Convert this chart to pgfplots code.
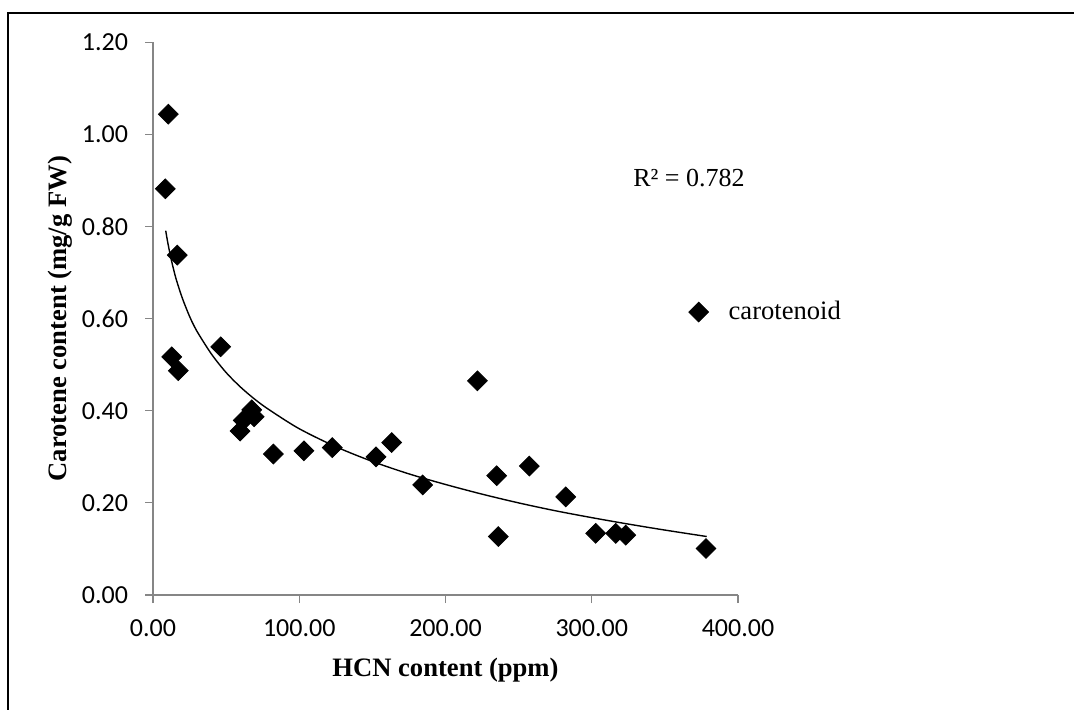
\documentclass[border=0pt]{standalone}
\usepackage{fontspec}
\setmainfont{Liberation Serif}
\newfontfamily\calibri{Carlito}
\usepackage{pgfplots}
\pgfplotsset{compat=1.18}
\definecolor{axisgray}{RGB}{134,134,134}

\begin{document}
\begin{tikzpicture}
  % picture size: 1074x709 px at 0.5pt per px, axis origin at px (153,595)
  \path[use as bounding box] (-76.5pt,-57pt) rectangle (460.5pt,297.5pt);
  \draw[line width=0.75pt] (-72.5pt,-60pt) -- (-72.5pt,291pt) -- (465pt,291pt);
  \begin{axis}[
      scale only axis,
      width=292.5pt, height=276.35pt,
      xmin=0, xmax=400, ymin=0, ymax=1.2,
      axis x line=bottom, axis y line=left,
      axis line style={-, axisgray, line width=0.6pt},
      xtick={0,100,200,300,400},
      ytick={0,0.2,0.4,0.6,0.8,1.0,1.2},
      tick align=outside,
      major tick length=4pt,
      tick style={axisgray, line width=0.6pt},
      xticklabel style={yshift=-5pt, /pgf/number format/.cd, fixed, fixed zerofill, precision=2, assume math mode=true},
      yticklabel style={xshift=-5pt, /pgf/number format/.cd, fixed, fixed zerofill, precision=2, assume math mode=true},
      tick label style={font=\calibri\fontsize{13}{15}\selectfont},
      xlabel={HCN content (ppm)},
      ylabel={Carotene content (mg/g FW)},
      xlabel style={font=\bfseries\fontsize{13.3}{16}\selectfont,
        at={(axis description cs:0.5,-0.148)}, anchor=base},
      ylabel style={font=\bfseries\fontsize{13.3}{16}\selectfont,
        at={(axis description cs:-0.1487,0.5)}, anchor=base},
      legend style={draw=none, fill=none, at={(axis description cs:0.905,0.512)},
        anchor=west, font=\fontsize{13.3}{16}\selectfont},
      clip=false,
    ]
    \addplot[only marks, mark=square*, mark size=3.5pt, mark options={rotate=45, black}, black]
      coordinates {
        (10.5,1.044)(8.4,0.882)(16.6,0.738)(12.8,0.517)(17.3,0.487)
        (46.3,0.539)(59.5,0.356)(61.7,0.379)(67.5,0.402)(69.1,0.387)
        (82.3,0.306)(103.2,0.313)(122.6,0.320)(152.5,0.300)(163.2,0.331)
        (184.4,0.239)(221.8,0.465)(235.0,0.259)(236.1,0.127)(257.3,0.280)
        (282.2,0.213)(302.7,0.134)(316.4,0.134)(323.2,0.130)(378.1,0.101)
      };
    \addlegendentry{\hspace{8pt}carotenoid}
    % trend line
    \addplot[black, line width=0.7pt, smooth, forget plot]
      coordinates {
        (8.7,0.791)(10,0.767)(12,0.735)(14,0.708)(16,0.684)(20,0.645)
        (25,0.605)(30,0.573)(40,0.523)(50,0.483)(60,0.451)(70,0.424)
        (80,0.401)(100,0.361)(125,0.322)(150,0.290)(175,0.263)(200,0.240)
        (225,0.219)(250,0.200)(275,0.183)(300,0.168)(325,0.154)(350,0.141)
        (378.6,0.127)
      };
    \node[font=\fontsize{13}{15}\selectfont] at (axis cs:366.5,0.9055) {R² = 0.782};
  \end{axis}
\end{tikzpicture}
\end{document}
